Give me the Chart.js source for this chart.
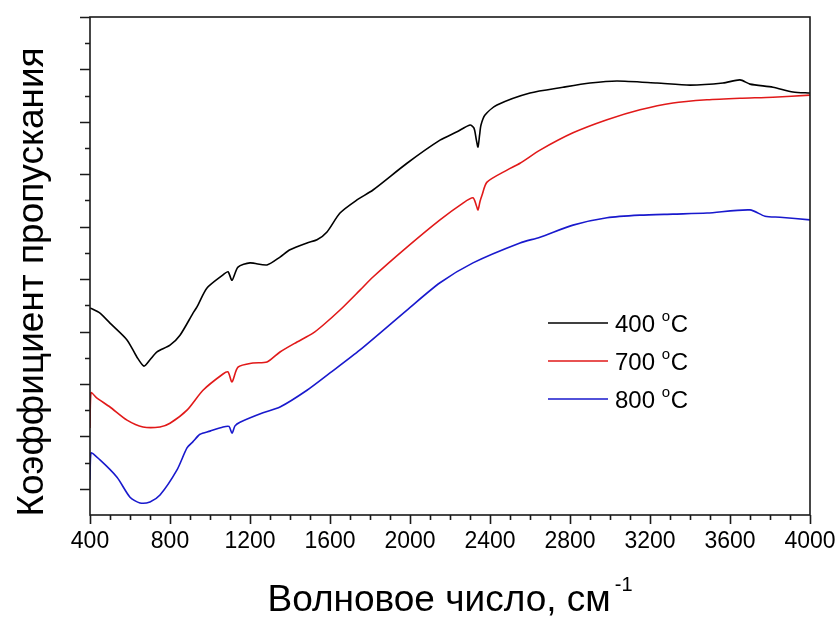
<!DOCTYPE html>
<html>
<head>
<meta charset="utf-8">
<script src="https://cdn.jsdelivr.net/npm/chart.js@4/dist/chart.umd.min.js"></script>
<style>
  html, body { margin: 0; padding: 0; background: #fff; }
  #wrap { width: 840px; height: 617px; position: relative; }
</style>
</head>
<body>
<div id="wrap"><canvas id="myChart"></canvas></div>
<script>
// wavenumbers (cm-1) and transmittance readings for each anneal temperature
const wn400 = [400, 450, 500, 585, 635, 670, 700, 735, 800, 850, 915, 935, 985, 1065, 1090, 1110, 1140, 1200, 1285, 1350, 1400, 1485, 1535, 1585, 1650, 1735, 1815, 1985, 2150, 2235, 2300, 2320, 2332, 2340, 2348, 2355, 2375, 2435, 2600, 2765, 2900, 3035, 3235, 3400, 3565, 3650, 3700, 3815, 3915, 4000];
const t400 = [44.5, 43.5, 41.6, 38.4, 35.1, 33.4, 34.6, 36.1, 37.4, 39.3, 43.5, 44.7, 48.3, 50.8, 51.4, 49.8, 52.3, 53.1, 52.7, 54.2, 55.6, 56.9, 57.5, 59.0, 62.6, 65.1, 67.0, 72.1, 76.5, 78.1, 79.4, 78.8, 76.5, 75.2, 77.5, 79.4, 81.3, 83.2, 85.5, 86.6, 87.4, 87.8, 87.4, 87.0, 87.4, 88.0, 87.2, 86.6, 85.7, 85.5];

const wn700 = [400, 405, 435, 500, 585, 665, 750, 800, 885, 965, 1065, 1090, 1110, 1140, 1215, 1285, 1350, 1435, 1515, 1565, 1650, 1750, 1815, 1985, 2150, 2265, 2315, 2332, 2340, 2350, 2360, 2385, 2485, 2550, 2650, 2815, 2985, 3150, 3315, 3485, 3650, 3815, 4000];
const t700 = [21.6, 28.3, 27.3, 25.6, 23.1, 21.8, 21.8, 22.5, 25.0, 28.8, 31.9, 32.3, 30.4, 33.2, 34.0, 34.2, 36.1, 38.0, 39.7, 41.2, 44.1, 47.9, 50.4, 56.1, 61.3, 64.5, 65.5, 64.0, 63.2, 64.8, 66.0, 68.5, 70.8, 72.1, 74.6, 77.9, 80.4, 82.3, 83.6, 84.2, 84.5, 84.7, 85.1];

const wn800 = [400, 405, 450, 535, 600, 650, 700, 750, 835, 885, 915, 950, 1000, 1065, 1095, 1110, 1125, 1150, 1265, 1350, 1485, 1600, 1750, 1985, 2150, 2315, 2550, 2650, 2815, 2985, 3150, 3315, 3485, 3700, 3775, 3850, 4000];
const t800 = [11.7, 16.8, 15.5, 12.2, 8.4, 7.3, 7.5, 8.8, 13.6, 17.8, 19.0, 20.4, 21.0, 21.8, 21.9, 20.6, 22.0, 22.7, 24.5, 25.6, 28.8, 32.1, 36.5, 44.1, 49.3, 53.1, 56.9, 58.0, 60.3, 61.7, 62.2, 62.4, 62.6, 63.2, 62.0, 61.8, 61.3];

const seriesLabels = ['400', '700', '800'];
const seriesColors = ['#000000', 'rgb(225,25,25)', 'rgb(25,25,205)'];
const xTickStep = 400;
const FONT = '"Liberation Sans", Arial, sans-serif';

const toPoints = (xs, ys) => xs.map((x, i) => ({ x, y: ys[i] }));

// frame, minor/major ticks, axis titles and the in-plot legend
const decorations = {
  id: 'decorations',
  afterDraw(chart) {
    const { ctx, chartArea: a, scales: { x, y } } = chart;
    ctx.save();
    ctx.strokeStyle = '#1a1a1a';
    ctx.lineWidth = 1.6;
    ctx.strokeRect(a.left, a.top, a.right - a.left, a.bottom - a.top);

    ctx.beginPath();
    for (let v = x.min; v <= x.max; v += 100) {
      const px = Math.round(x.getPixelForValue(v)) + 0.5;
      const len = (v - x.min) % xTickStep === 0 ? 9 : 5;
      ctx.moveTo(px, a.bottom);
      ctx.lineTo(px, a.bottom + len);
    }
    for (let v = 10; v <= y.max; v += 5) {
      const py = Math.round(y.getPixelForValue(v)) + 0.5;
      const len = v % 10 === 0 ? 10 : 5;
      ctx.moveTo(a.left, py);
      ctx.lineTo(a.left - len, py);
    }
    ctx.stroke();

    ctx.fillStyle = '#000';
    ctx.textBaseline = 'alphabetic';

    // x title with superscript
    const main = 'Волновое число, см';
    ctx.font = '37px ' + FONT;
    const w1 = ctx.measureText(main).width;
    ctx.font = '20px ' + FONT;
    const w2 = ctx.measureText('-1').width;
    const cx = (a.left + a.right) / 2;
    const sx = cx - (w1 + w2 + 4) / 2;
    ctx.font = '37px ' + FONT;
    ctx.textAlign = 'left';
    ctx.fillText(main, sx, 611);
    ctx.font = '20px ' + FONT;
    ctx.fillText('-1', sx + w1 + 4, 591);

    // y title
    ctx.save();
    ctx.translate(43, 282);
    ctx.rotate(-Math.PI / 2);
    ctx.textAlign = 'center';
    ctx.font = '37px ' + FONT;
    ctx.fillText('Коэффициент пропускания', 0, 0);
    ctx.restore();

    // legend
    chart.data.datasets.forEach((ds, i) => {
      const ly = 323 + i * 38;
      ctx.strokeStyle = ds.borderColor;
      ctx.lineWidth = 1.6;
      ctx.beginPath();
      ctx.moveTo(548, ly);
      ctx.lineTo(608, ly);
      ctx.stroke();
      ctx.fillStyle = '#000';
      ctx.textAlign = 'left';
      ctx.font = '24px ' + FONT;
      ctx.fillText(ds.label, 615, ly + 9);
      const tw = ctx.measureText(ds.label + ' ').width;
      ctx.font = '15px ' + FONT;
      ctx.fillText('o', 615 + tw, ly - 2);
      ctx.font = '24px ' + FONT;
      ctx.fillText('C', 615 + tw + 9, ly + 9);
    });
    ctx.restore();
  }
};

const ctx = document.getElementById('myChart').getContext('2d');
new Chart(ctx, {
  type: 'line',
  data: {
    datasets: [
      { label: seriesLabels[0], data: toPoints(wn400, t400), borderColor: seriesColors[0] },
      { label: seriesLabels[1], data: toPoints(wn700, t700), borderColor: seriesColors[1] },
      { label: seriesLabels[2], data: toPoints(wn800, t800), borderColor: seriesColors[2] },
    ].map((d) => ({ ...d, borderWidth: 1.6, pointRadius: 0, tension: 0.25, fill: false })),
  },
  options: {
    responsive: true,
    maintainAspectRatio: false,
    animation: false,
    layout: { padding: { left: 90, top: 17, right: 30, bottom: 0 } },
    plugins: { legend: { display: false }, tooltip: { enabled: false } },
    scales: {
      x: {
        type: 'linear',
        min: 400,
        max: 4000,
        grid: { display: false, drawTicks: false },
        border: { display: false },
        ticks: {
          stepSize: xTickStep,
          padding: 13,
          color: '#000',
          maxRotation: 0,
          font: { family: FONT, size: 23 },
          callback: (v) => String(v),
        },
        afterFit: (scale) => {
          scale.height = 102;
          scale.paddingLeft = 0;
          scale.paddingRight = 0;
        },
      },
      y: {
        display: false,
        min: 5,
        max: 100,
      },
    },
  },
  plugins: [decorations],
});
</script>
</body>
</html>
